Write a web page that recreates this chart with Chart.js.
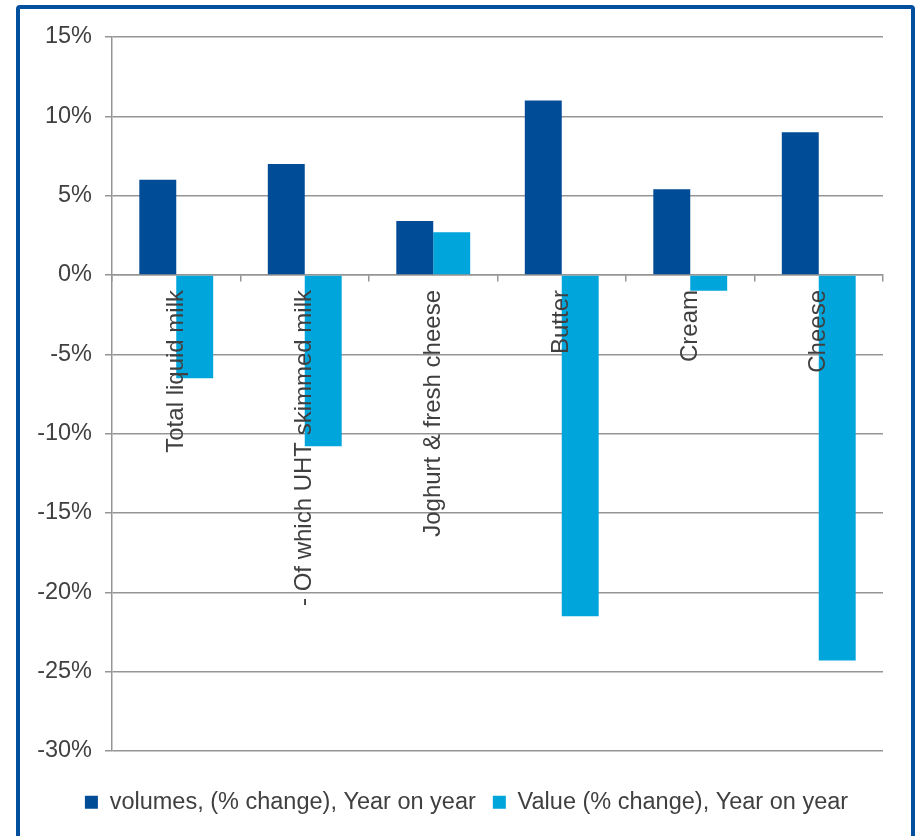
<!DOCTYPE html>
<html>
<head>
<meta charset="utf-8">
<script src="https://cdn.jsdelivr.net/npm/chart.js@4"></script>
<style>
  html, body { margin: 0; padding: 0; background: #fff; overflow: hidden; }
  #frame { position: absolute; left: 16px; top: 5px; width: 891px; height: 850px;
           border: 4px solid #00509e; border-radius: 4px; }
  #wrap { position: absolute; left: 0; top: 0; width: 919px; height: 836px; }
</style>
</head>
<body>
<div id="frame"></div>
<div id="wrap"><canvas id="dairyChart" width="919" height="836"></canvas></div>
<script>
const categories = ['Total liquid milk', '- Of which UHT skimmed milk', 'Joghurt & fresh cheese', 'Butter', 'Cream', 'Cheese'];
const volumeChange = [6.0, 7.0, 3.4, 11.0, 5.4, 9.0];
const valueChange = [-6.5, -10.8, 2.7, -21.5, -1.0, -24.3];
const yTicks = { min: -30, max: 15, step: 5 };

const FONT = "'Liberation Sans', Arial, sans-serif";
const TEXT = '#404040';
const GRID = '#959595';

// legend sits a bit right of the canvas centre in the original
const legendShift = {
  id: 'legendShift',
  afterLayout(chart) {
    chart.legend.left += 25;
    chart.legend.right += 25;
  },
};

new Chart(document.getElementById('dairyChart'), {
  type: 'bar',
  data: {
    labels: categories,
    datasets: [
      { label: 'volumes, (% change), Year on year', data: volumeChange, backgroundColor: '#004c97',
        categoryPercentage: 0.575, barPercentage: 1.0 },
      { label: 'Value (% change), Year on year', data: valueChange, backgroundColor: '#00a6db',
        categoryPercentage: 0.575, barPercentage: 1.0 },
    ],
  },
  plugins: [legendShift],
  options: {
    responsive: false,
    animation: false,
    layout: { padding: { left: 0, right: 36, top: 37, bottom: 12 } },
    scales: {
      x: {
        position: { y: 0 },
        grid: { drawOnChartArea: false, drawTicks: true, tickLength: 6, color: GRID, lineWidth: 1.5 },
        border: { display: true, color: GRID, width: 1.5 },
        ticks: { z: 1, autoSkip: false, minRotation: 90, maxRotation: 90, padding: 9, color: TEXT,
                 font: { family: FONT, size: 24 } },
      },
      y: {
        min: yTicks.min, max: yTicks.max,
        afterFit: s => { s.width = 112; },
        grid: { color: GRID, lineWidth: 1.5, tickLength: 7 },
        border: { color: GRID, width: 1.5 },
        ticks: { stepSize: yTicks.step, padding: 13, color: TEXT, font: { family: FONT, size: 23.5 },
                 callback: v => v + '%' },
      },
    },
    plugins: {
      tooltip: { enabled: false },
      legend: {
        position: 'bottom',
        title: { display: true, text: '', font: { size: 10 }, padding: { top: 0, bottom: 10.5 } },
        labels: { boxWidth: 13, boxHeight: 13, padding: 17, color: TEXT, font: { family: FONT, size: 23.5 } },
      },
    },
  },
});
</script>
</body>
</html>
